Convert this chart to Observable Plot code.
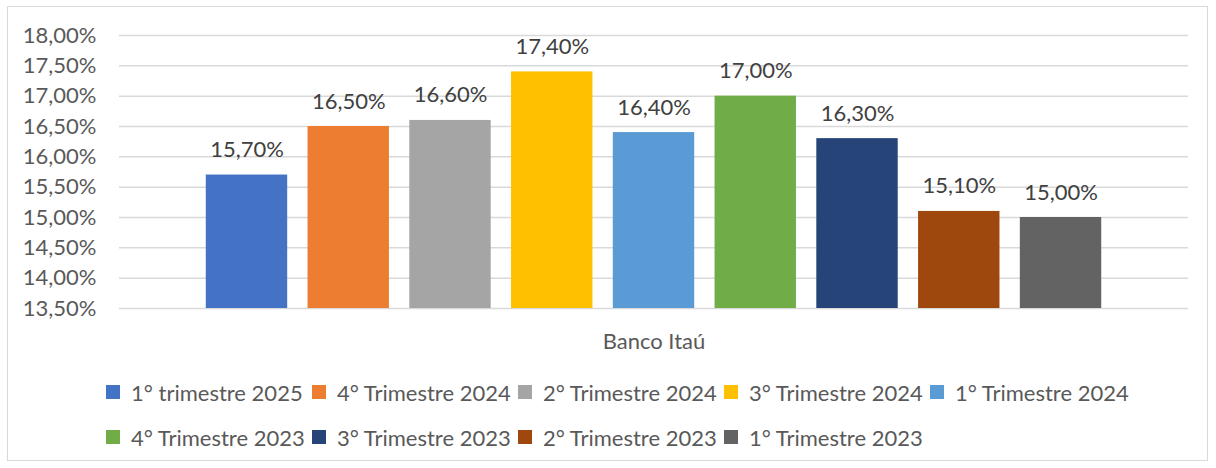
<!DOCTYPE html>
<html>
<head>
<meta charset="utf-8">
<script src="https://cdn.jsdelivr.net/npm/d3@7"></script>
<script src="https://cdn.jsdelivr.net/npm/@observablehq/plot@0.6"></script>
<style>
  html, body { margin: 0; padding: 0; background: #fff; }
  #wrap { position: relative; width: 1216px; height: 468px; font-family: Lato, "Open Sans", sans-serif; overflow: hidden; }
  #border { position: absolute; left: 7px; top: 6px; width: 1201px; height: 455px; border: 1px solid #d9d9d9; box-sizing: border-box; }
  #chart { position: absolute; left: 0; top: 0; }
  #legend { position: absolute; left: 106px; top: 379px; display: grid; grid-template-columns: repeat(5, 206px); row-gap: 19px; color: #595959; font-size: 22px; }
  .item { display: flex; align-items: center; white-space: nowrap; height: 26px; }
  .sw { width: 14px; height: 14px; margin-right: 11px; flex: none; }
</style>
</head>
<body>
<div id="wrap">
  <div id="border"></div>
  <div id="chart"></div>
  <div id="legend"></div>
</div>
<script>
const category = "Banco Itaú";
const series = ["1° trimestre 2025", "4° Trimestre 2024", "2° Trimestre 2024", "3° Trimestre 2024", "1° Trimestre 2024", "4° Trimestre 2023", "3° Trimestre 2023", "2° Trimestre 2023", "1° Trimestre 2023"];
const values = [15.7, 16.5, 16.6, 17.4, 16.4, 17.0, 16.3, 15.1, 15.0];
const colors = ["#4472C4", "#ED7D31", "#A5A5A5", "#FFC000", "#5B9BD5", "#70AD47", "#264478", "#9E480E", "#636363"];
const yTicks = [13.5, 14, 14.5, 15, 15.5, 16, 16.5, 17, 17.5, 18];
const yDomain = [13.5, 18];

const fmt = d => d.toFixed(2).replace(".", ",") + "%";
const data = series.map((s, i) => ({series: s, value: values[i], category}));

const chart = Plot.plot({
  width: 1216,
  height: 360,
  marginLeft: 119,
  marginRight: 28,
  marginTop: 35,
  marginBottom: 52,
  style: {fontFamily: "Lato, 'Open Sans', sans-serif", fontSize: "22px", background: "transparent"},
  x: {domain: series, range: [195.6, 1111.4], paddingInner: 0.2, paddingOuter: 0.1, round: false, axis: null},
  y: {domain: yDomain, ticks: yTicks, tickFormat: fmt},
  color: {domain: series, range: colors},
  marks: [
    Plot.ruleY(yTicks, {stroke: "#d9d9d9", strokeWidth: 1.5}),
    Plot.axisY({ticks: yTicks, tickFormat: fmt, tickSize: 0, tickPadding: 23, fill: "#595959", fontSize: "22px", label: null}),
    Plot.barY(data, {x: "series", y1: yDomain[0], y2: "value", fill: "series"}),
    Plot.text(data, {x: "series", y: "value", text: d => fmt(d.value), dy: -25, fill: "#404040", fontSize: "22px", lineAnchor: "middle"}),
    Plot.text([category], {frameAnchor: "bottom", text: d => d, dy: 33, fill: "#595959", fontSize: "22px", lineAnchor: "middle"})
  ]
});
document.getElementById("chart").appendChild(chart);

const legend = document.getElementById("legend");
series.forEach((s, i) => {
  const it = document.createElement("div");
  it.className = "item";
  const sw = document.createElement("span");
  sw.className = "sw";
  sw.style.background = colors[i];
  const t = document.createElement("span");
  t.textContent = s;
  it.appendChild(sw); it.appendChild(t);
  legend.appendChild(it);
});
</script>
</body>
</html>
